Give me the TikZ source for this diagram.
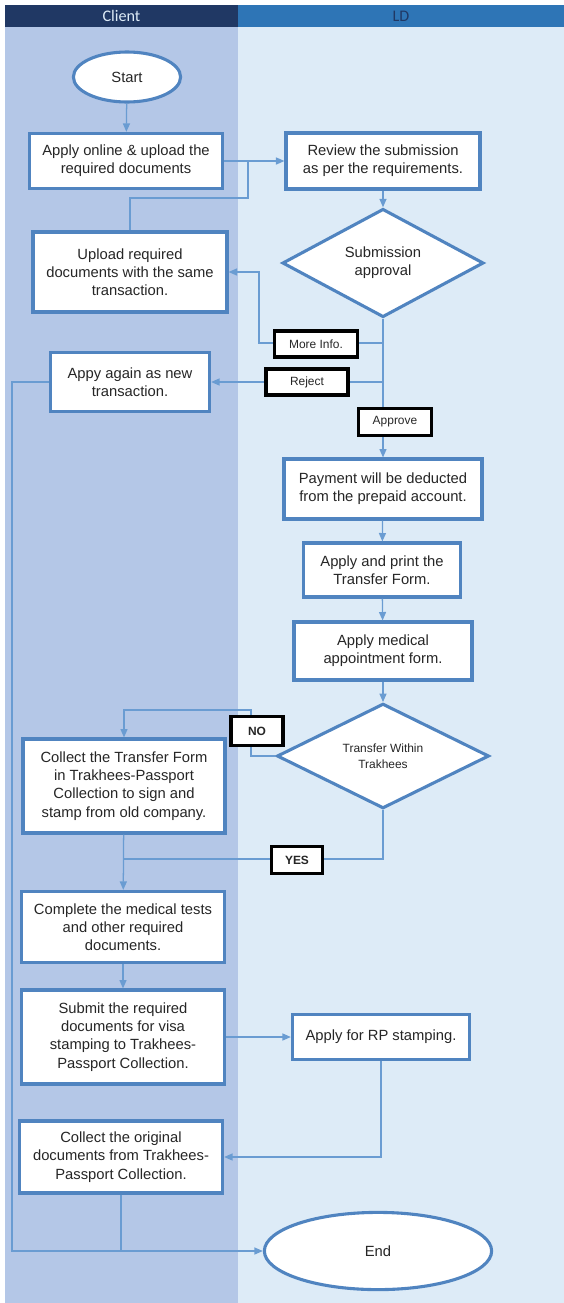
\documentclass[tikz,border=0pt]{standalone}
\usepackage{fontspec}
\setmainfont{Liberation Sans}
\newfontfamily\headfont{Carlito}
\usetikzlibrary{arrows.meta, positioning, shapes.geometric}
\definecolor{clientlane}{HTML}{B4C7E7}
\definecolor{ldlane}{HTML}{DDEBF7}
\definecolor{clienthead}{HTML}{203864}
\definecolor{ldhead}{HTML}{2E75B6}
\definecolor{boxline}{HTML}{5084C0}
\definecolor{flowline}{HTML}{6A9CD2}
\tikzset{
  procbox/.style={draw=boxline, line width=2.2pt, fill=white, align=center,
    inner sep=2pt, text=black!85, font=\fontsize{10.5}{13}\selectfont},
  termnode/.style={ellipse, draw=boxline, line width=2.2pt, fill=white,
    inner sep=0pt, text=black!85, font=\fontsize{10.5}{13}\selectfont},
  decision/.style={diamond, draw=boxline, line width=2.2pt, fill=white,
    align=center, inner sep=0pt, text=black!85},
  tagbox/.style={draw=black, line width=2.5pt, fill=white, inner sep=0pt,
    text=black!85, font=\fontsize{8.5}{10}\selectfont},
  flow/.style={draw=flowline, line width=0.9pt,
    -{Triangle[length=6pt, width=5pt]}},
  plainflow/.style={draw=flowline, line width=0.9pt},
  headtext/.style={font=\headfont\fontsize{11.5}{13}\selectfont}
}

\begin{document}
\begin{tikzpicture}[x=0.025cm, y=-0.025cm]
  \useasboundingbox (0,0) rectangle (564,1303);
  % Swimlanes
  \fill[clientlane] (5,27) rectangle (238,1303);
  \fill[ldlane] (238,27) rectangle (564,1303);
  \fill[clienthead] (5,5) rectangle (238,27);
  \fill[ldhead] (238,5) rectangle (564,27);
  \node[headtext, text=ldlane] (hclient) at (121.5,16) {Client};
  \node[headtext, text=clienthead] (hld) at (401,16) {LD};

  % Client side
  \node[termnode, minimum width=2.68cm, minimum height=1.25cm] (start) at (127,77) {Start};
  \node[procbox, minimum width=4.83cm, minimum height=1.38cm] (apply) at (126,161)
    {Apply online \& upload the\\required documents};
  \node[procbox, minimum width=4.85cm, minimum height=2cm] (upload) at (130,272)
    {Upload required\\documents with the same\\transaction.};
  \node[procbox, minimum width=3.98cm, minimum height=1.48cm] (again) at (130,382)
    {Appy again as new\\transaction.};
  \node[procbox, minimum width=5.05cm, minimum height=2.35cm] (collect) at (124,786)
    {Collect the Transfer Form\\in Trakhees-Passport\\Collection to sign and\\stamp from old company.};
  \node[procbox, minimum width=5.08cm, minimum height=1.78cm] (complete) at (123,927)
    {Complete the medical tests\\and other required\\documents.};
  \node[procbox, minimum width=5.08cm, minimum height=2.35cm] (submit) at (123,1037)
    {Submit the required\\documents for visa\\stamping to Trakhees-\\Passport Collection.};
  \node[procbox, minimum width=5.08cm, minimum height=1.8cm] (original) at (121,1157)
    {Collect the original\\documents from Trakhees-\\Passport Collection.};

  % LD side
  \node[procbox, minimum width=4.85cm, minimum height=1.4cm] (review) at (383,161)
    {Review the submission\\as per the requirements.};
  \node[decision, minimum width=5.03cm, minimum height=2.5cm,
        font=\fontsize{10.5}{13}\selectfont] (subm) at (383,263)
    {Submission\\approval};
  \node[procbox, minimum width=4.95cm, minimum height=1.5cm] (payment) at (383,489)
    {Payment will be deducted\\from the prepaid account.};
  \node[procbox, minimum width=3.93cm, minimum height=1.35cm] (print) at (382,570)
    {Apply and print the\\Transfer Form.};
  \node[procbox, minimum width=4.45cm, minimum height=1.45cm] (medical) at (383,651)
    {Apply medical\\appointment form.};
  \node[decision, minimum width=5.3cm, minimum height=2.55cm,
        font=\fontsize{8.5}{11}\selectfont] (transfer) at (383,756)
    {Transfer Within\\Trakhees};
  \node[procbox, minimum width=4.43cm, minimum height=1.13cm] (rp) at (381,1037)
    {Apply for RP stamping.};
  \node[termnode, minimum width=5.68cm, minimum height=1.93cm] (end) at (378,1251) {End};

  % Connectors
  \coordinate (bend1) at (248,198);
  \coordinate (infoturn) at (259,343);
  \coordinate (rail) at (12,800);
  \coordinate (noturn) at (251,710);
  \coordinate (yesturn) at (383,859);
  \draw[flow] (start) -- (apply);
  \draw[flow] (apply.east) -- (review.west);
  \draw[plainflow] (upload.north) |- (bend1) -- (bend1 |- apply.east);
  \draw[flow] (review) -- (subm);
  \draw[flow] (subm) -- (payment);
  \draw[flow] (subm.south |- infoturn) -- (infoturn) |- (upload.east);
  \draw[flow] (subm.south |- again.east) -- (again.east);
  \draw[flow] (again.west) -| (rail) |- (end.west);
  \draw[flow] (payment) -- (print);
  \draw[flow] (print) -- (medical);
  \draw[flow] (medical) -- (transfer);
  \draw[flow] (transfer.west) -| (noturn) -| (collect.north);
  \draw[plainflow] (transfer.south) |- (collect.south |- yesturn);
  \draw[flow] (collect) -- (complete);
  \draw[flow] (complete) -- (submit);
  \draw[flow] (submit.east) -- (rp.west);
  \draw[flow] (rp.south) |- (original.east);
  \draw[plainflow] (original.south) -- (original.south |- end.west);

  % Labels
  \node[tagbox, minimum width=2.08cm, minimum height=0.65cm] (moreinfo) at (316,344) {More Info.};
  \node[tagbox, minimum width=2.05cm, minimum height=0.65cm] (reject) at (307,382) {Reject};
  \node[tagbox, minimum width=1.83cm, minimum height=0.68cm] (approve) at (395,422) {Approve};
  \node[tagbox, minimum width=1.3cm, minimum height=0.73cm, font=\fontsize{8.5}{10}\selectfont\bfseries] (no) at (257,731) {NO};
  \node[tagbox, minimum width=1.28cm, minimum height=0.68cm, font=\fontsize{8.5}{10}\selectfont\bfseries] (yes) at (297,860) {YES};
\end{tikzpicture}
\end{document}
